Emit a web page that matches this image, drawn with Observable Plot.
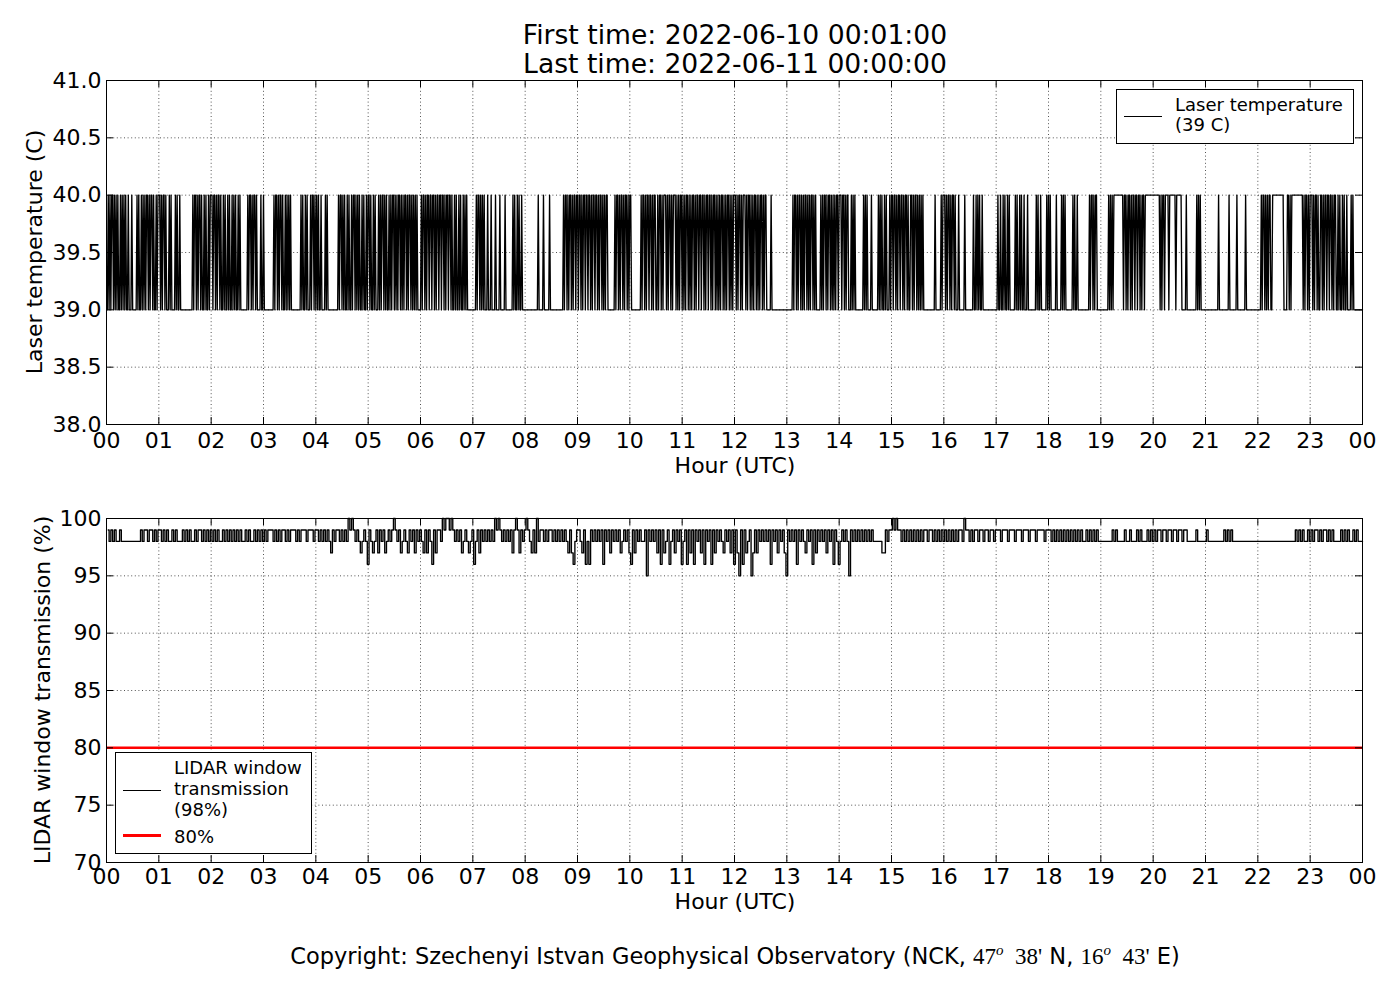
<!DOCTYPE html>
<html><head><meta charset="utf-8">
<script src="https://cdn.jsdelivr.net/npm/d3@7"></script>
<script src="https://cdn.jsdelivr.net/npm/@observablehq/plot@0.6"></script>
<style>
html,body{margin:0;padding:0;background:#fff;overflow:hidden}
#wrap{position:relative;width:1400px;height:1000px;font-family:"DejaVu Sans",sans-serif;color:#000;background:#fff;overflow:hidden}
.abs{position:absolute;white-space:nowrap}
.ctr{left:0;width:1470px;text-align:center}
.rot{transform:translate(-50%,-50%) rotate(-90deg);font-size:22px;line-height:26px}
.leg{position:absolute;border:1px solid #000;background:#fff;box-sizing:border-box}
.m{font-family:"Liberation Serif","DejaVu Serif",serif;font-size:23px}
</style>
</head><body>
<div id="wrap">
  <div id="p1" class="abs" style="left:0;top:0"></div>
  <div id="p2" class="abs" style="left:0;top:490px"></div>
</div>
<script>
// ---------------- DATA ----------------
const titleLines = ["First time: 2022-06-10 00:01:00", "Last time: 2022-06-11 00:00:00"];
const xLabel = "Hour (UTC)";
const tempLabel = "Laser temperature (C)";
const transLabel = "LIDAR window transmission (%)";
const xTicks = d3.range(0, 25);
const xTickLabels = ["00","01","02","03","04","05","06","07","08","09","10","11","12","13","14","15","16","17","18","19","20","21","22","23","00"];
const tempTicks = [38.0, 38.5, 39.0, 39.5, 40.0, 40.5, 41.0];
const transTicks = [70, 75, 80, 85, 90, 95, 100];
const thresholdValue = [80];

// Laser temperature, one character per minute from 00:01 ("0" = 39 C, "1" = 40 C), one string per hour
const tempHours = [
"0101011010 1010010101 0100100010 0000101001 0101011010 1101001011",
"1010110100 0101000010 1001000000 0000000010 1101011010 0101001011",
"1011010110 1001010010 1001010100 1010000000 0101101011 0100001001",
"0000000000 0101101011 0100101010 1000000000 0010100101 0001011010",
"1010010000 1010000000 0000010110 1010010100 1011010101 0010100101",
"1010010100 0101011010 1001010110 1010110101 0110101101 0101010000",
"1011010110 1101101011 0110110101 1011010010 1001010010 1010000000",
"0001011010 1010001000 1000010000 1000001000 0000010100 1010010000",
"0000000000 0000100000 1000000100 0000000000 0001011010 1101011011",
"0110101101 1011010110 1101011010 1011000000 0010110101 1010110101",
"1000000000 0010110101 1011010110 0101101011 1010110101 1101010110",
"1010110101 0110101101 1011010110 1101011010 1010110101 0110101011",
"1010110101 1101011010 1011010101 1010110000 0100000000 0000000000",
"0000001011 0101101010 1101010110 1010000010 1011010110 1010101101",
"1101101011 0001010100 0000000101 0100001000 0000101010 0101000101",
"1011010110 1101011010 0110101101 0101010000 0000000001 0000001011",
"1010110101 1010001000 0001000000 0001001010 1001000000 0000000000",
"0100100101 0010100000 0101001010 0100010000 0000010100 1000000101",
"0100000010 0000101010 0000000101 0010000000 0000001011 0101100000",
"0000000010 1010111111 1111101101 0110101101 1011010110 1111111111",
"1111111010 1101111011 1111101111 1100000100 0000000001 0101000000",
"0000000000 0000100000 0000001000 0000010000 0000010000 0000000000",
"0001011010 1011001111 1111111110 0001101011 1111111111 1010110101",
"1101011010 0110101101 1011010110 0101001010 0100001010 0000000000"
];
const tempLow = 39, tempHigh = 40;

// LIDAR window transmission, one character per 2 minutes ("5".."9" = 95..99 %, "0" = 100 %), one string per hour
const transHours = [
"9898988988 8888888889 8998998989",
"9898988989 8889898988 9899898989",
"8989889898 9898989889 8988989898",
"9899989898 9989899989 8999899989",
"9898989879 8998989809 0989878986",
"9878979897 8989098978 9879897989",
"8797986979 9809009098 9897898789",
"6897989898 9809098989 8979097989",
"0987970899 8989989898 9898797689",
"9879686989 8989698979 8989789897",
"6979898895 9898979697 8968979896",
"8969796989 7969896979 8987989796",
"9759697895 7979898989 6989798975",
"9898969898 7989697989 8979896986",
"8989859898 9898989898 8888779899",
"0909989898 9898989899 8998989898",
"9898989899 8099898998 9989989989",
"9989998999 8999899989 9989999899",
"9898989898 9898989898 8989898988",
"8888889898 8889889888 9898889898",
"9899899899 8998998998 8888988888",
"9888888888 9898988888 8888888888",
"8888888888 8888888888 8989898898",
"9899898998 9898888989 8988989888"
];

const tempLegend = ["Laser temperature", "(39 C)"];
const transLegend = ["LIDAR window", "transmission", "(98%)"];
const thresholdLegend = "80%";

// ---------------- TABLES ----------------
const tempChars = tempHours.join("").replace(/ /g, "").split("");
const tempData = tempChars.map((c, i) => ({t: (i + 1) / 60, v: c === "1" ? tempHigh : tempLow}));
const transChars = transHours.join("").replace(/ /g, "").split("");
const transData = transChars.map((c, i) => ({t: (2 * i + 2) / 60, v: c === "0" ? 100 : 90 + (+c)}));

// ---------------- LAYOUT ----------------
const W = 1400, ML = 106, MR = 38;
const FW = W - ML - MR;       // frame width
const FH = 344;               // frame height
const TL = 7;                 // inward tick length
const LW = 1.35;              // data line width
const gridStyle = {stroke: "#000", strokeOpacity: 0.85, strokeWidth: 0.8, strokeDasharray: "1,2.6"};
const baseStyle = {fontFamily: "DejaVu Sans", fontSize: "22px", color: "black", background: "transparent"};

function frameTicks(yTicks) {
  return [
    Plot.tickX(xTicks, {x: d => d, insetTop: FH - TL, stroke: "black", strokeWidth: 1}),
    Plot.tickX(xTicks, {x: d => d, insetBottom: FH - TL, stroke: "black", strokeWidth: 1}),
    Plot.tickY(yTicks, {y: d => d, insetRight: FW - TL, stroke: "black", strokeWidth: 1}),
    Plot.tickY(yTicks, {y: d => d, insetLeft: FW - TL, stroke: "black", strokeWidth: 1})
  ];
}

const p1 = Plot.plot({
  width: W, height: 480, marginLeft: ML, marginRight: MR, marginTop: 80, marginBottom: 56,
  style: baseStyle,
  x: {domain: [0, 24], label: null},
  y: {domain: [38, 41], label: null},
  marks: [
    Plot.gridX(xTicks, gridStyle),
    Plot.gridY(tempTicks, gridStyle),
    Plot.line(tempData, {x: "t", y: "v", stroke: "black", strokeWidth: LW}),
    ...frameTicks(tempTicks),
    Plot.frame({stroke: "black", strokeWidth: 1}),
    Plot.axisX(xTicks, {tickSize: 0, tickPadding: 8, tickFormat: d => xTickLabels[d], label: null}),
    Plot.axisY(tempTicks, {tickSize: 0, tickPadding: 5, tickFormat: d => d.toFixed(1), label: null})
  ]
});
document.getElementById("p1").appendChild(p1);

const p2 = Plot.plot({
  width: W, height: 420, marginLeft: ML, marginRight: MR, marginTop: 28, marginBottom: 48,
  style: baseStyle,
  x: {domain: [0, 24], label: null},
  y: {domain: [70, 100], label: null},
  marks: [
    Plot.gridX(xTicks, gridStyle),
    Plot.gridY(transTicks, gridStyle),
    Plot.ruleY(thresholdValue, {stroke: "#ff0000", strokeWidth: 2.5}),
    Plot.line(transData, {x: "t", y: "v", stroke: "black", strokeWidth: LW, curve: "step"}),
    ...frameTicks(transTicks),
    Plot.frame({stroke: "black", strokeWidth: 1}),
    Plot.axisX(xTicks, {tickSize: 0, tickPadding: 6, tickFormat: d => xTickLabels[d], label: null}),
    Plot.axisY(transTicks, {tickSize: 0, tickPadding: 5, tickFormat: d => String(d), label: null})
  ]
});
document.getElementById("p2").appendChild(p2);

// ---------------- TEXT ----------------
const wrap = document.getElementById("wrap");
function addDiv(cls, style, html) {
  const d = document.createElement("div");
  d.className = cls; d.setAttribute("style", style); d.innerHTML = html;
  wrap.appendChild(d); return d;
}
addDiv("abs ctr", "top:20px;font-size:26.6px;line-height:29px", titleLines.join("<br>"));
addDiv("abs ctr", "top:453px;font-size:22px;line-height:26px", xLabel);
addDiv("abs ctr", "top:890px;font-size:22px;line-height:24px", xLabel);
addDiv("abs rot", "left:35px;top:252px", tempLabel);
addDiv("abs rot", "left:43px;top:690px", transLabel);

// top legend
const lg1 = addDiv("leg", "left:1116px;top:89px;width:238px;height:55px", "");
lg1.innerHTML = `<div class="abs" style="left:7px;top:26px;width:38px;height:0;border-top:1.4px solid #000"></div>
<div class="abs" style="left:58px;top:5px;font-size:18px;line-height:20px">${tempLegend.join("<br>")}</div>`;

// bottom legend
const lg2 = addDiv("leg", "left:115px;top:752px;width:197px;height:102px", "");
lg2.innerHTML = `<div class="abs" style="left:7px;top:37px;width:38px;height:0;border-top:1.4px solid #000"></div>
<div class="abs" style="left:58px;top:4px;font-size:18px;line-height:21px">${transLegend.join("<br>")}</div>
<div class="abs" style="left:7px;top:81px;width:38px;height:0;border-top:3px solid #ff0000"></div>
<div class="abs" style="left:58px;top:73px;font-size:18px;line-height:21px">${thresholdLegend}</div>`;

// copyright
addDiv("abs ctr", "top:937px;font-size:22.5px;line-height:26px",
  `Copyright: Szechenyi Istvan Geophysical Observatory (NCK, <span class="m">47<sup style="font-size:15px;font-style:italic">o</sup>&nbsp;&nbsp;38'</span> N, <span class="m">16<sup style="font-size:15px;font-style:italic">o</sup>&nbsp;&nbsp;43'</span> E)`);
</script>
</body></html>
